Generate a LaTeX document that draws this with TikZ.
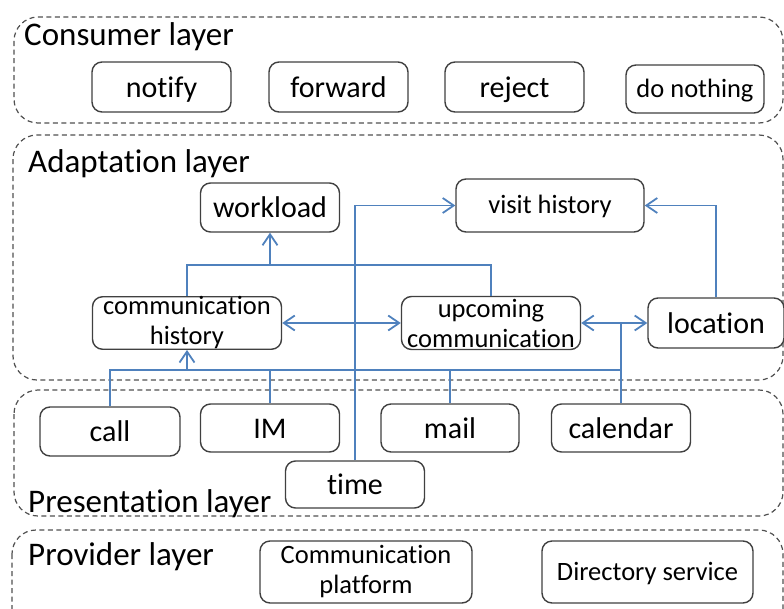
\documentclass[tikz,border=0pt]{standalone}
\usepackage{fontspec}
\setmainfont[Ligatures=NoCommon]{Carlito}
\usepackage{tikz}
\usetikzlibrary{positioning,arrows.meta}
\definecolor{linkblue}{RGB}{79,129,189}
\definecolor{boxgray}{RGB}{64,64,64}
\definecolor{dashgray}{RGB}{80,80,80}
\tikzset{
  layer-box/.style={draw=dashgray, line width=1.2pt, dash pattern=on 5pt off 3.5pt,
    rounded corners=24pt},
  layer-title/.style={anchor=base west, inner sep=0pt, font=\fontsize{33}{36}\selectfont},
  item-node/.style={draw=boxgray, line width=1.4pt, rounded corners=10pt, fill=white,
    minimum width=139pt, minimum height=49pt, inner sep=0pt, align=center,
    text height=22pt, text depth=2pt, font=\fontsize{30}{30}\selectfont},
  small-node/.style={item-node, text height=19.5pt, text depth=3.5pt,
    font=\fontsize{26.5}{30}\selectfont},
  twoline-node/.style={draw=boxgray, line width=1.4pt, rounded corners=10pt, fill=white,
    inner sep=0pt, align=center, font=\fontsize{26.5}{30}\selectfont},
  link-line/.style={draw=linkblue, line width=1.8pt},
  link-arrow/.style={link-line, -{Straight Barb[length=11pt,width=15pt]}},
  both-arrow/.style={link-line, {Straight Barb[length=11pt,width=15pt]}-{Straight Barb[length=11pt,width=15pt]}}
}
\begin{document}
\begin{tikzpicture}[x=1pt, y=-1pt]
\useasboundingbox (0,0) rectangle (784,608);

% Layer frames
\draw[layer-box] (14,17) rectangle (783,123);
\draw[layer-box] (13,135) rectangle (783,380);
\draw[layer-box] (14,390) rectangle (783,516);
\draw[layer-box] (12,530) rectangle (783,640);

\node[layer-title] (consumer-title) at (24,45) {Consumer layer};
\node[layer-title] (adaptation-title) at (28,172) {Adaptation layer};
\node[layer-title] (presentation-title) at (28,512) {Presentation layer};
\node[layer-title] (provider-title) at (28,565) {Provider layer};

% Consumer layer
\node[item-node, minimum height=50pt] (notify) at (161.5,87) {notify};
\node[item-node, minimum height=50pt] (forward) at (338.5,87) {forward};
\node[item-node, minimum height=50pt] (reject) at (514.5,87) {reject};
\node[small-node, minimum width=138pt, minimum height=48pt] (nothing) at (695,89) {do nothing};

% Adaptation layer
\node[item-node] (workload) at (270,207.5) {workload};
\node[small-node, minimum width=188pt, minimum height=53pt] (visit) at (550,205.5) {visit history};
\node[twoline-node, minimum width=189pt, minimum height=52pt] (commhist) at (187,323) {communication\\history};
\node[twoline-node, minimum width=179pt, minimum height=53pt] (upcoming) at (491,323) {upcoming\\communication};
\node[item-node, minimum width=136pt, minimum height=50pt] (location) at (716,323) {location};

% Presentation layer
\node[item-node, minimum width=140pt] (call) at (110,431.5) {call};
\node[item-node, minimum height=48pt] (im) at (270,428) {IM};
\node[item-node, minimum width=138pt, minimum height=48pt] (mail) at (450,428) {mail};
\node[item-node, minimum height=48pt] (calendar) at (621,428) {calendar};
\node[item-node, minimum height=47pt] (time) at (355,484.5) {time};

% Provider layer
\node[twoline-node, minimum width=212pt, minimum height=62pt] (commplat) at (366,572) {Communication\\platform};
\node[small-node, minimum width=211pt, minimum height=62pt] (dirsvc) at (647.5,572) {Directory service};

% Connectors
\coordinate (wl-join) at (270,265);
\coordinate (bus-join) at (187,370);
\draw[link-line] (commhist.north) |- (wl-join) -| (upcoming.north);
\draw[link-arrow] (wl-join) -- (workload.south);
\draw[both-arrow] (commhist.east) -- (upcoming.west);
\draw[link-arrow] (time.north) |- (visit.west);
\draw[link-arrow] (location.north) |- (visit.east);
\draw[link-arrow] (calendar.north) |- (upcoming.east);
\draw[link-arrow] (calendar.north) |- (location.west);
\draw[link-line] (call.north) |- (calendar.north |- bus-join);
\draw[link-line] (im.north) -- (im.north |- bus-join);
\draw[link-line] (mail.north) -- (mail.north |- bus-join);
\draw[link-arrow] (bus-join) -- (commhist.south);
\end{tikzpicture}
\end{document}
